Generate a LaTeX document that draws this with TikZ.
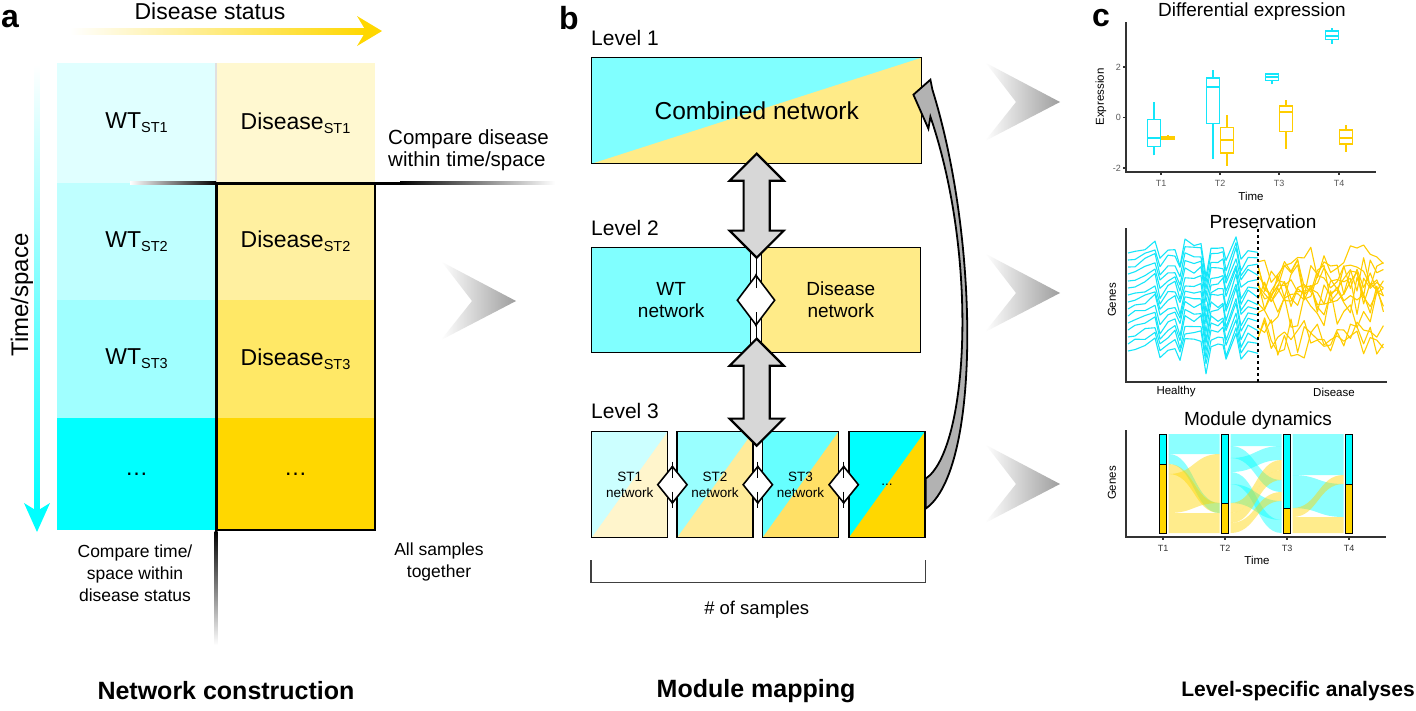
\documentclass[tikz,border=0pt]{standalone}
\usepackage{fontspec}
\setmainfont{Liberation Sans}
\usetikzlibrary{arrows.meta, positioning, calc, shapes.geometric, shapes.arrows}

\definecolor{wtA}{RGB}{224,255,255}
\definecolor{wtB}{RGB}{191,255,255}
\definecolor{wtC}{RGB}{160,255,255}
\definecolor{wtD}{RGB}{0,255,255}
\definecolor{dsA}{RGB}{255,248,208}
\definecolor{dsB}{RGB}{255,240,160}
\definecolor{dsC}{RGB}{255,232,102}
\definecolor{dsD}{RGB}{255,215,0}
\definecolor{netcyan}{RGB}{128,255,255}
\definecolor{netgold}{RGB}{255,235,136}
\definecolor{stcA}{RGB}{204,255,255}
\definecolor{stgA}{RGB}{255,245,204}
\definecolor{stcB}{RGB}{153,255,255}
\definecolor{stgB}{RGB}{255,235,153}
\definecolor{stcC}{RGB}{102,255,255}
\definecolor{stgC}{RGB}{255,224,102}
\definecolor{plotcyan}{RGB}{20,230,250}
\definecolor{plotgold}{RGB}{255,205,0}
\definecolor{arrowgray}{RGB}{215,215,215}

\newcommand{\stsub}[1]{\raisebox{-4pt}{\fontsize{14.5}{16}\selectfont #1}}
% boxplot: x, lower whisker, q1, median, q3, upper whisker, colour
\newcommand{\bxp}[7]{%
  \draw[#7, line width=1.3] (#1,#2) -- (#1,#3) (#1,#5) -- (#1,#6);
  \draw[#7, line width=1.3] ({#1-6.5},#3) rectangle ({#1+6.5},#5);
  \draw[#7, line width=2] ({#1-6.5},#4) -- ({#1+6.5},#4);}
% alluvial ribbon: x1, top1, bottom1, x2, top2, bottom2, colour
\newcommand{\alluv}[7]{%
  \fill[#7, fill opacity=0.45] (#1,#2) .. controls ({(#1+#4)/2},#2) and ({(#1+#4)/2},#5) .. (#4,#5)
    -- (#4,#6) .. controls ({(#1+#4)/2},#6) and ({(#1+#4)/2},#3) .. (#1,#3) -- cycle;}
% module bar: x, split
\newcommand{\mbar}[2]{%
  \draw[line width=1, fill=wtD] ({#1-3.5},434) rectangle ({#1+3.5},#2);
  \draw[line width=1, fill=dsD] ({#1-3.5},#2) rectangle ({#1+3.5},533);}

\begin{document}
\begin{tikzpicture}[x=1pt, y=-1pt,
  cell/.style={inner sep=0, outer sep=0, minimum width=159, font=\fontsize{23}{27}\selectfont},
  txt/.style={font=\fontsize{17.5}{22}\selectfont, align=center, inner sep=0},
  lvl/.style={font=\fontsize{21}{24}\selectfont, inner sep=0, anchor=west},
  panel/.style={font=\fontsize{32}{32}\selectfont\bfseries, inner sep=0},
  ttl/.style={font=\fontsize{25}{28}\selectfont\bfseries, inner sep=0},
  netbox/.style 2 args={draw, line width=1.4, fill=#1, inner sep=0, align=center,
    path picture={\fill[#2] (path picture bounding box.south west) -- (path picture bounding box.north east)
      -- (path picture bounding box.south east) -- cycle;}},
  plainbox/.style={draw, line width=1.4, fill=#1, inner sep=0, align=center,
    minimum width=159, minimum height=105, font=\fontsize{19}{22}\selectfont},
  stbox/.style={minimum width=76, minimum height=106, font=\fontsize{13.5}{15.5}\selectfont},
  cmpdia/.style={diamond, draw, line width=1.6, fill=white, inner sep=0},
  thinarr/.style={line width=1, -{Stealth[length=5pt, width=4.5pt]}},
  bigdarrow/.style={double arrow, rotate=90, draw, line width=2.2, fill=arrowgray,
    inner xsep=0, inner ysep=12, minimum width=54, double arrow head extend=14},
  ctitle/.style={font=\fontsize{19}{22}\selectfont, inner sep=0},
  ticklab/.style={font=\fontsize{9}{10}\selectfont, text=black!65, inner sep=0},
  axlab/.style={font=\fontsize{11.5}{13}\selectfont, inner sep=0},
  axis/.style={line width=1.1, black!80},
  healthy/.style={plotcyan, line width=1.1, line join=round},
  disease/.style={plotgold, line width=1.1, line join=round},
  chevron/.pic={\shade[left color=white, right color=black!38] (-36,-39) -- (38,0) -- (-37,39) -- (-6,0) -- cycle;}
]
\useasboundingbox (0,0) rectangle (1416,710);
\fill[white] (0,0) rectangle (1416,710);

% transition chevrons
\pic at (478,301) {chevron};
\pic at (1022,102) {chevron};
\pic at (1022,293) {chevron};
\pic at (1022,484) {chevron};

% ---- a: network construction
\node[panel] (pa) at (10,19) {a};
\node[font=\fontsize{23}{27}\selectfont, inner sep=0] (dstat) at (210,11) {Disease status};
\shade[left color=white, right color=dsD] (70,28) rectangle (366,34);
\fill[dsD] (382,31) -- (357,16) -- (366,31) -- (357,46) -- cycle;
\node[rotate=90, font=\fontsize{24}{28}\selectfont, inner sep=0] (tspace) at (22,295) {Time/space};
\shade[top color=white, bottom color=wtD] (34.5,65) rectangle (39.5,512);
\fill[wtD] (37,532) -- (24,503) -- (37,511) -- (50,503) -- cycle;

\node[cell, fill=wtA, minimum height=120, anchor=north west] (wt1) at (57,63) {WT\stsub{ST1}};
\node[cell, fill=wtB, minimum height=117, below=0pt of wt1] (wt2) {WT\stsub{ST2}};
\node[cell, fill=wtC, minimum height=118, below=0pt of wt2] (wt3) {WT\stsub{ST3}};
\node[cell, fill=wtD, minimum height=112, below=0pt of wt3] (wt4) {\dots};
\node[cell, fill=dsA, minimum height=120, right=0pt of wt1] (ds1) {Disease\stsub{ST1}};
\node[cell, fill=dsB, minimum height=117, below=0pt of ds1] (ds2) {Disease\stsub{ST2}};
\node[cell, fill=dsC, minimum height=118, below=0pt of ds2] (ds3) {Disease\stsub{ST3}};
\node[cell, fill=dsD, minimum height=112, below=0pt of ds3] (ds4) {\dots};

\draw[black!12, line width=1.2] (ds1.north west) -- (ds1.south west);
\shade[left color=white, right color=black] (130,181.5) rectangle (216,184.5);
\fill[black] (216,181.5) rectangle (400,184.5);
\shade[left color=black, right color=white] (400,181.5) rectangle (555,184.5);
\fill[black] (214.5,183) rectangle (217.5,531);
\shade[top color=black, bottom color=white] (214.5,531) rectangle (217.5,645);
\draw[line width=2.5] (ds4.south west) -- (ds4.south east) -- (ds2.north east);

\node[txt, align=left, anchor=west, font=\fontsize{20.5}{22}\selectfont] (cmpds) at (388,150) {Compare disease\\within time/space};
\node[txt] (cmpts) at (135,573) {Compare time/\\space within\\disease status};
\node[txt] (allsm) at (439,562) {All samples\\together};
\node[ttl] (ttla) at (226,691) {Network construction};

% ---- b: module mapping
\node[panel] (pb) at (569,18) {b};
\node[lvl] (lv1) at (591,38) {Level 1};
\node[netbox={netcyan}{netgold}, minimum width=330, minimum height=106, anchor=north west,
  font=\fontsize{24.5}{28}\selectfont] (comb) at (591,57) {Combined network};
\node[lvl] (lv2) at (591,228) {Level 2};
\node[plainbox=netcyan, anchor=north west] (wtnet) at (591,247) {WT\\network};
\node[plainbox=netgold, anchor=north east] (dsnet) at (921,247) {Disease\\network};
\node[lvl] (lv3) at (591,411) {Level 3};
\node[netbox={stcA}{stgA}, stbox, anchor=north west] (st1) at (591,431) {ST1\\network};
\node[netbox={stcB}{stgB}, stbox, right=8pt of st1] (st2) {ST2\\network};
\node[netbox={stcC}{stgC}, stbox, right=8pt of st2] (st3) {ST3\\network};
\node[netbox={wtD}{dsD}, stbox, right=9pt of st3] (st4) {...};

% comparison diamonds
\coordinate (dm) at ($(wtnet.east)!0.5!(dsnet.west)$);
\draw[line width=1] ($(dm)+(0,-42)$) -- ($(dm)+(0,40)$);
\foreach \a/\b [count=\n] in {st1/st2, st2/st3, st3/st4}{
  \coordinate (dc\n) at ($(\a.east)!0.5!(\b.west)$);
  \draw[line width=1] ($(dc\n)+(0,-23)$) -- ($(dc\n)+(0,23)$);
}

\node[bigdarrow, minimum height=104] (ar12) at ($(comb.south)!0.5!(comb.south |- wtnet.north)$) {};
\node[bigdarrow, minimum height=107] (ar23) at ($(comb.south |- wtnet.south)!0.5!(comb.south |- st1.north)$) {};

\node[cmpdia, minimum width=38, minimum height=50] (dg) at (dm) {};
\draw[thinarr] ($(dg.center)+(0,-12)$) -- ($(dg.center)+(0,-27)$);
\draw[thinarr] ($(dg.center)+(0,12)$) -- ($(dg.center)+(0,27)$);
\foreach \n in {1,2,3}{
  \node[cmpdia, minimum width=30, minimum height=37] (dd\n) at (dc\n) {};
  \draw[thinarr] ($(dd\n.center)+(0,-7)$) -- ($(dd\n.center)+(0,-20)$);
  \draw[thinarr] ($(dd\n.center)+(0,7)$) -- ($(dd\n.center)+(0,20)$);
}

% feedback from level 3 to level 1
\draw[line width=1.8, fill=black!30, line join=miter]
  ($(st4.east)+(0,-6)$) .. controls +(42,-28) and +(49,144) .. ($(comb.east)+(8,6)$)
  -- ($(comb.east)+(6,18)$) -- ($(comb.east)+(-9,-16)$) -- ($(comb.east)+(8,-31)$)
  -- ($(comb.east)+(10,-21)$) .. controls +(47,151) and +(55,-38) .. ($(st4.east)+(0,24)$) -- cycle;

\draw[line width=1.5, black!75] ($(st1.south west)+(0,22)$) -- ($(st1.south west)+(0,44)$)
  -| ($(st4.south east)+(0,22)$);
\node[font=\fontsize{18.5}{22}\selectfont, inner sep=0] (nsamp) at ($(comb.south |- st1.south)+(0,71)$) {\# of samples};
\node[ttl] (ttlb) at (756,691) {Module mapping};

% ---- c: level-specific analyses
\node[panel] (pc) at (1101,18) {c};

% differential expression
\node[ctitle] (tde) at (1252,12) {Differential expression};
\draw[axis] (1126,22) -- (1126,172) -- (1376,172);
\foreach \v/\yy in {2/67, 0/117.3, -2/168}{
  \draw[axis] (1123,\yy) -- (1126,\yy);
  \node[ticklab, anchor=east] at (1121,\yy) {\v};
}
\foreach \t/\xx in {T1/1161, T2/1220, T3/1279, T4/1339}{
  \draw[axis] (\xx,172) -- (\xx,175);
  \node[ticklab] at (\xx,183) {\t};
}
\node[axlab] at (1251,196) {Time};
\node[axlab, rotate=90] at (1101,97) {Expression};
\begin{scope}[shift={(0,117.3)}, y=25.4pt]
  \bxp{1154}{-1.5}{-1.15}{-0.8}{-0.1}{0.6}{plotcyan}
  \bxp{1168}{-0.9}{-0.87}{-0.8}{-0.75}{-0.7}{plotgold}
  \bxp{1213}{-1.65}{-0.25}{1.2}{1.55}{1.85}{plotcyan}
  \bxp{1227}{-1.9}{-1.4}{-0.9}{-0.4}{0.1}{plotgold}
  \bxp{1272}{1.3}{1.45}{1.6}{1.7}{1.72}{plotcyan}
  \bxp{1286}{-1.25}{-0.55}{0.2}{0.45}{0.7}{plotgold}
  \bxp{1332}{2.9}{3.05}{3.2}{3.4}{3.5}{plotcyan}
  \bxp{1346}{-1.35}{-1.05}{-0.8}{-0.5}{-0.3}{plotgold}
\end{scope}

% preservation
\node[ctitle] (tpr) at (1263,222) {Preservation};
\pgfmathsetseed{12}
\foreach \b in {0,...,14}{
  \pgfmathsetmacro\yb{253+\b*7}
  \draw[healthy] (1128,\yb) \foreach \dx/\dy in {7/-3,17/-6,27/-12,32/8,40/-2,47/-4,52/10,57/-12,66/-10,
      73/-12,78/22,83/-5,90/-4,95/-8,98/10,108/-18,113/8,120/-2,130/0}{
    -- ({1128+\dx},{\yb+\dy+3*rand}) };
}
\foreach \g in {1,...,13}{
  \pgfmathsetmacro\yg{258+rnd*92}
  \draw[disease] (1258,{\yg+15*rand}) \foreach \k in {1,...,19}{ -- ({1258+\k*6.6},{\yg+20*rand}) };
}
\draw[axis] (1126,228) -- (1126,382) -- (1387,382);
\draw[dashed, line width=1.1] (1258,229) -- (1258,382);
\node[axlab, rotate=90] at (1112,300) {Genes};
\node[axlab] at (1176,392) {Healthy};
\node[axlab] at (1334,392) {Disease};

% module dynamics
\node[ctitle] (tmd) at (1258,421) {Module dynamics};
\alluv{1168.5}{434}{454}{1219.5}{434}{454}{wtD}
\alluv{1168.5}{454}{464}{1219.5}{503}{513}{wtD}
\alluv{1168.5}{464}{474}{1219.5}{503}{513}{dsD}
\alluv{1168.5}{474}{513}{1219.5}{454}{503}{dsD}
\alluv{1168.5}{513}{533}{1219.5}{513}{533}{dsD}
\alluv{1230.5}{434}{446}{1281.5}{434}{446}{wtD}
\alluv{1230.5}{446}{458}{1281.5}{480}{492}{wtD}
\alluv{1230.5}{458}{472}{1281.5}{446}{460}{wtD}
\alluv{1230.5}{472}{484}{1281.5}{520}{533}{wtD}
\alluv{1230.5}{484}{503}{1281.5}{501}{520}{wtD}
\alluv{1230.5}{503}{513}{1281.5}{460}{470}{dsD}
\alluv{1230.5}{513}{523}{1281.5}{470}{480}{dsD}
\alluv{1230.5}{523}{533}{1281.5}{492}{501}{dsD}
\alluv{1292.5}{434}{475}{1343.5}{434}{475}{wtD}
\alluv{1292.5}{475}{508}{1343.5}{484}{517}{wtD}
\alluv{1292.5}{508}{517}{1343.5}{475}{484}{dsD}
\alluv{1292.5}{517}{533}{1343.5}{517}{533}{dsD}
\mbar{1163}{464}
\mbar{1225}{503}
\mbar{1287}{508}
\mbar{1349}{484}
\draw[axis] (1126,430) -- (1126,537) -- (1386,537);
\foreach \t/\xx in {T1/1163, T2/1225, T3/1287, T4/1349}{
  \draw[axis] (\xx,537) -- (\xx,540);
  \node[ticklab, text=black!80] at (\xx,548) {\t};
}
\node[axlab] at (1257,560) {Time};
\node[axlab, rotate=90] at (1112,483) {Genes};
\node[ttl, font=\fontsize{21}{24}\selectfont\bfseries] (ttlc) at (1298,691) {Level-specific analyses};
\end{tikzpicture}
\end{document}
